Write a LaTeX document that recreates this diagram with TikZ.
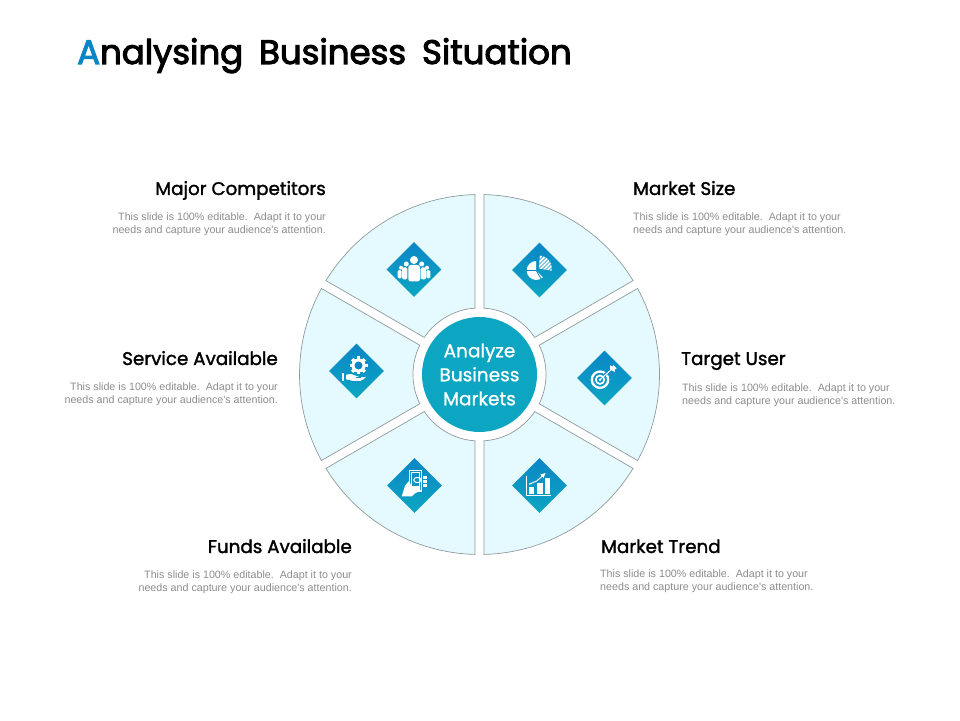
\documentclass[tikz,border=0pt]{standalone}
\usepackage{fontspec}
\setmainfont{Poppins}
\newfontfamily\bodyfont{Liberation Sans}
\newfontfamily\titlefont[FakeBold=3,WordSpace=1.75]{Poppins}
\newfontfamily\headfont[FakeBold=1.6]{Poppins}
\newfontfamily\hubfont[FakeBold=1]{Poppins}
\usetikzlibrary{shapes.geometric,calc}
\definecolor{wheelfill}{HTML}{E5FAFE}
\definecolor{wheelline}{HTML}{8F9A9C}
\definecolor{darkteal}{HTML}{0A86C6}
\definecolor{midteal}{HTML}{0B96C4}
\definecolor{lightteal}{HTML}{0CA6C2}
\definecolor{bodygray}{HTML}{8C8C8C}
\tikzset{
  sector/.style={fill=wheelfill, draw=wheelline, line width=0.7pt},
  badge/.style={diamond, minimum size=55pt, inner sep=0pt, top color=darkteal, bottom color=lightteal, shading angle=0},
  heading/.style={font=\headfont\fontsize{18.3}{20}\selectfont, text=black, inner sep=0pt},
  blurb/.style={font=\bodyfont\fontsize{10.7}{13}\selectfont, text=bodygray, inner sep=0pt}
}
\begin{document}
\begin{tikzpicture}[x=1pt,y=1pt]
\useasboundingbox (0,0) rectangle (960,720);

\node[anchor=base west, inner sep=0pt, font=\titlefont\fontsize{34}{40}\selectfont] (title) at (77,656) {\textcolor{darkteal}{A}nalysing Business Situation};

% the six sectors of the wheel
\coordinate (hub) at (479.5,345.5);
\foreach \a in {30,90,150,210,270,330}{
  \pgfmathsetmacro{\b}{\a+60}
  \draw[sector] ($(hub)+(\a+1.44:180)$) arc[start angle=\a+1.44, end angle=\b-1.44, radius=180]
    -- ($(hub)+(\b-3.88:66.5)$) arc[start angle=\b-3.88, end angle=\a+3.88, radius=66.5] -- cycle;
}
\node[circle, fill=lightteal, minimum size=115pt, inner sep=0pt, align=center, text=white,
  font=\hubfont\fontsize{18.5}{24}\selectfont] (centre) at (hub) {Analyze\\Business\\Markets};

% badges
\node[badge] (competitors) at (414,450.5) {};
\node[badge] (size) at (539.5,450) {};
\node[badge] (target) at (604.5,342) {};
\node[badge] (trend) at (539.5,234.5) {};
\node[badge] (funds) at (414.5,234.5) {};
\node[badge] (service) at (356.5,349) {};

% texts at the left and at the right
\foreach \nam/\x/\y/\txt in {mc/326/525/Major Competitors, sa/278/355/Service Available, fa/352/167/Funds Available}{
  \node[heading, anchor=base east] (\nam) at (\x,\y) {\txt};
  \node[blurb, anchor=north east, align=right] (\nam b) at (\x,\y-18) {This slide is 100\% editable.\ \ Adapt it to your\\needs and capture your audience's attention.};
}
\foreach \nam/\x/\y/\bx/\by/\txt in {ms/633/525/633/507/Market Size, tu/681/355/682/336/Target User, mt/601/167/600/150/Market Trend}{
  \node[heading, anchor=base west] (\nam) at (\x,\y) {\txt};
  \node[blurb, anchor=north west, align=left] (\nam b) at (\bx,\by) {This slide is 100\% editable.\ \ Adapt it to your\\needs and capture your audience's attention.};
}

% people
\begin{scope}[shift={(competitors)}]
  \foreach \s in {-1,1}{
    \fill[white] (\s*13,1.8) circle (2);
    \fill[white, rounded corners=1.5pt] (\s*16.3,-9) rectangle (\s*12.3,-0.5);
    \fill[white] (\s*7.7,5.5) circle (2.5);
    \fill[white, rounded corners=1.5pt] (\s*12,-10) rectangle (\s*6.6,2);
  }
  \fill[white] (0,9.5) circle (4);
  \fill[white, rounded corners=2.5pt] (-5.7,-12) rectangle (6,4.5);
\end{scope}

% pie
\begin{scope}[shift={(size)}]
  \fill[white] (-3.3,-0.5) -- ++(90:9.5) arc[start angle=90, end angle=315, radius=9.5] -- cycle;
  \draw[darkteal, line width=0.8pt] (-3.3,-0.5) -- ++(180:10) (-3.3,-0.5) -- ++(300:10);
  \begin{scope}
    \clip (-0.7,1.5) -- ++(85:13) arc[start angle=85, end angle=-10, radius=13] -- cycle;
    \foreach \t in {-16,-12,...,24}{
      \draw[white, line width=1.8pt] (\t-14,-14) -- (\t+14,14);
    }
  \end{scope}
\end{scope}

% target
\begin{scope}[shift={(target)}]
  \draw[white, line width=2.3pt] (-4.5,-1.7) circle (8.2);
  \draw[white, line width=1.7pt] (-4.5,-1.7) circle (4.2);
  \fill[white] (-4.5,-1.7) circle (1.4);
  \draw[darkteal, line width=2.8pt] (0,3) -- (7.5,9);
  \draw[white, line width=1pt] (-4.5,-1.7) -- (7.5,9);
  \fill[white] (5.5,8.5) -- (5.5,12.7) -- (8,11.5) -- (9,13) -- (12.2,9.5) -- (10,8.5) -- (10.5,6) -- cycle;
\end{scope}

% hand and gear
\begin{scope}[shift={(service)}]
  \foreach \t in {0,45,...,315}{
    \fill[white, rotate around={\t:(2,5.5)}] (0.4,5.5) rectangle (3.6,14.5);
  }
  \fill[white] (2,5.5) circle (7);
  \fill[darkteal] (2,5.5) circle (4);
  \fill[white] (-14.5,-10) rectangle (-12.2,-2.3);
  \draw[fill=white, draw=midteal, line width=1pt] (-11.2,-3.3) -- (-5.5,-2.3) -- (-0.2,-4.3) -- (3.8,-5.7) -- (11.2,-5) .. controls (9,-8) and (7,-9.5) .. (3.8,-10.7)
    -- (-2.8,-10.7) -- (-11.2,-8.7) -- cycle;
  \draw[midteal, line width=0.6pt] (-1,-6.8) -- (4,-6.8);
\end{scope}

% banknote in hand
\begin{scope}[shift={(funds)}]
  \draw[white, line width=1.1pt] (-5,15) rectangle (6.7,-5.5);
  \draw[white, line width=0.8pt] (-2.8,13) rectangle (4.5,-1);
  \draw[white, line width=1pt] (2.8,5.5) ellipse (3.6 and 2.6);
  \fill[white] (-12.8,-11) -- (-9.5,-0.2) -- (-5.5,4.5) -- (-2.8,-1.2) -- (5.5,-1.2) -- (5.5,-5.5) -- (0.5,-7.8) -- (-2.8,-11) -- cycle;
  \foreach \t in {6.5,2.5,-1.5}{
    \fill[white] (8.8,\t) rectangle (12.2,\t+2.5);
  }
\end{scope}

% chart
\begin{scope}[shift={(trend)}]
  \draw[white, line width=0.9pt] (-13.5,9.8) -- (-13.5,-10.2) -- (11.2,-10.2);
  \fill[white] (-10.5,-8.8) rectangle (-5.2,-1.8);
  \fill[white] (-2.8,-8.8) rectangle (3.2,2.8);
  \fill[white] (5.5,-8.8) rectangle (10.5,7.8);
  \draw[white, line width=1pt] (-10.5,1.2) -- (-2.8,4.5) -- (3.5,10);
  \fill[white] (6,12.5) -- (0.8,11) -- (4,7.5) -- cycle;
\end{scope}
\end{tikzpicture}
\end{document}
